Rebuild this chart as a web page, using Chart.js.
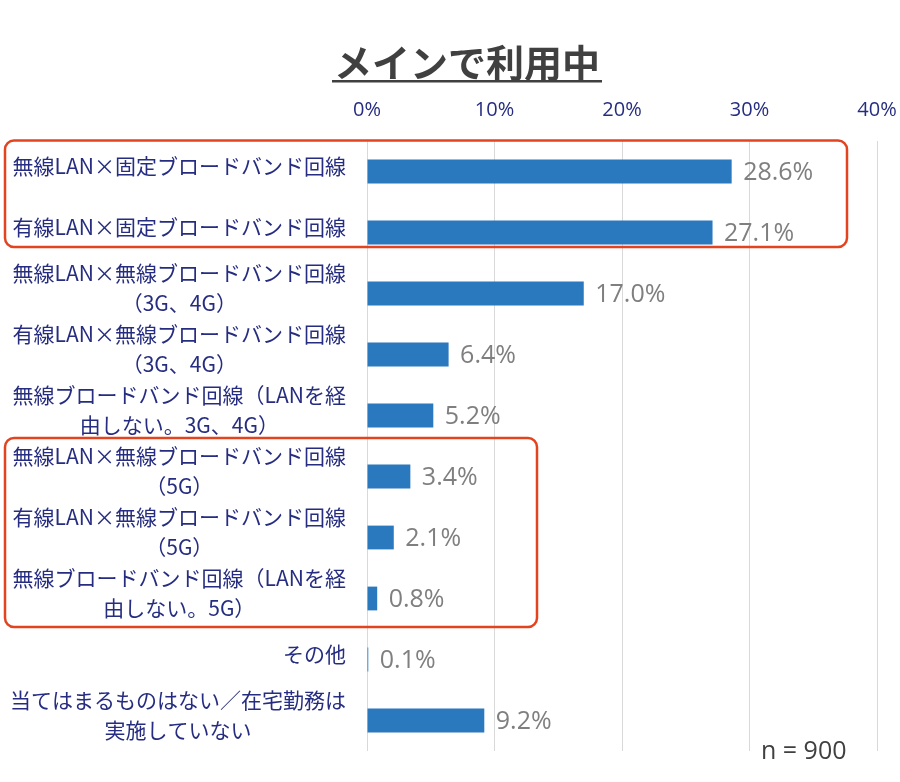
<!DOCTYPE html>
<html>
<head>
<meta charset="utf-8">
<script src="https://cdn.jsdelivr.net/npm/chart.js@4"></script>
<style>html,body{margin:0;padding:0;background:#fff;}canvas{display:block;}</style>
</head>
<body>
<canvas id="c" width="900" height="782"></canvas>
<script>
// ---- data ----
const titleText = 'メインで利用中';
const categories = [
  ['無線LAN×固定ブロードバンド回線'],
  ['有線LAN×固定ブロードバンド回線'],
  ['無線LAN×無線ブロードバンド回線', '（3G、4G）'],
  ['有線LAN×無線ブロードバンド回線', '（3G、4G）'],
  ['無線ブロードバンド回線（LANを経', '由しない。3G、4G）'],
  ['無線LAN×無線ブロードバンド回線', '（5G）'],
  ['有線LAN×無線ブロードバンド回線', '（5G）'],
  ['無線ブロードバンド回線（LANを経', '由しない。5G）'],
  ['その他'],
  ['当てはまるものはない／在宅勤務は', '実施していない']
];
const values = [28.6, 27.1, 17.0, 6.4, 5.2, 3.4, 2.1, 0.8, 0.1, 9.2];
const xTickLabels = ['0%', '10%', '20%', '30%', '40%'];
const noteText = 'n = 900';
const highlightGroups = [[0, 1], [5, 7]];

// ---- styles ----
const NAVY = '#262d80';
const CJK = "'Noto Sans CJK JP', 'Noto Sans', sans-serif";
const LATIN = "'Open Sans', 'Noto Sans', sans-serif";

const categoryLabelPlugin = {
  id: 'categoryLabels',
  afterDraw(chart) {
    const ctx = chart.ctx;
    const y = chart.scales.y;
    const blockRight = chart.chartArea.left - 21;
    const lh = 30;
    ctx.save();
    ctx.font = '21px ' + CJK;
    ctx.fillStyle = NAVY;
    ctx.textAlign = 'center';
    ctx.textBaseline = 'middle';
    categories.forEach((lines, i) => {
      const cy = y.getPixelForTick(i) - 5;
      const w = Math.max(...lines.map(l => ctx.measureText(l).width));
      const cx = blockRight - w / 2;
      const y0 = cy - (lines.length - 1) * lh / 2;
      lines.forEach((l, k) => ctx.fillText(l, cx, y0 + k * lh));
    });
    ctx.restore();
  }
};

const valueLabelPlugin = {
  id: 'valueLabels',
  afterDatasetsDraw(chart) {
    const ctx = chart.ctx;
    const meta = chart.getDatasetMeta(0);
    ctx.save();
    ctx.font = '25px ' + LATIN;
    ctx.fillStyle = '#7f7f7f';
    ctx.textAlign = 'left';
    ctx.textBaseline = 'middle';
    meta.data.forEach((bar, i) => {
      ctx.fillText(values[i].toFixed(1) + '%', bar.x + 11.5, bar.y + 1.5);
    });
    ctx.restore();
  }
};

const decorPlugin = {
  id: 'decor',
  afterDraw(chart) {
    const ctx = chart.ctx;
    const y = chart.scales.y;
    // title underline
    const tb = chart.titleBlock;
    ctx.save();
    ctx.font = 'bold 38px ' + CJK;
    const tw = ctx.measureText(titleText).width;
    const tcx = (tb.left + tb.right) / 2;
    const tcy = tb.top + 40 + 38 * 1.2 / 2;
    ctx.strokeStyle = '#404040';
    ctx.lineWidth = 2.5;
    ctx.beginPath();
    ctx.moveTo(tcx - tw / 2 - 2, tcy + 18.5);
    ctx.lineTo(tcx + tw / 2 + 2, tcy + 18.5);
    ctx.stroke();

    // highlight boxes
    ctx.strokeStyle = '#e3441f';
    ctx.lineWidth = 2.5;
    const boxes = [
      {g: highlightGroups[0], left: 5, right: 847, top: -31, bottom: 14.5},
      {g: highlightGroups[1], left: 5, right: 537, top: -38.5, bottom: 28.5}
    ];
    boxes.forEach(b => {
      const t = y.getPixelForTick(b.g[0]) + b.top;
      const bt = y.getPixelForTick(b.g[1]) + b.bottom;
      ctx.beginPath();
      ctx.roundRect(b.left, t, b.right - b.left, bt - t, 9);
      ctx.stroke();
    });

    // sample size note
    ctx.font = '25px ' + LATIN;
    ctx.fillStyle = '#404040';
    ctx.textAlign = 'left';
    ctx.textBaseline = 'middle';
    ctx.fillText(noteText, 761, chart.chartArea.bottom + 1);
    ctx.restore();
  }
};

new Chart(document.getElementById('c'), {
  type: 'bar',
  data: {
    labels: categories,
    datasets: [{
      data: values,
      backgroundColor: '#2a78be',
      borderWidth: 0,
      barPercentage: 0.39,
      categoryPercentage: 1.0
    }]
  },
  options: {
    indexAxis: 'y',
    responsive: false,
    animation: false,
    devicePixelRatio: 1,
    layout: { padding: { left: 57, right: 23, top: 0, bottom: 31 } },
    plugins: {
      legend: { display: false },
      tooltip: { enabled: false },
      title: {
        display: true,
        text: titleText,
        color: '#404040',
        font: { family: CJK, size: 38, weight: 'bold' },
        padding: { top: 40, bottom: 0 }
      }
    },
    scales: {
      x: {
        position: 'top',
        min: 0,
        max: 40,
        ticks: {
          stepSize: 10,
          padding: 19,
          color: NAVY,
          font: { family: LATIN, size: 20 },
          callback: (v, i) => xTickLabels[i]
        },
        grid: { color: '#d9d9d9', lineWidth: 1, drawTicks: false },
        border: { display: false },
        afterFit(s) { s.height = 55.4; s.paddingLeft = 0; s.paddingRight = 0; }
      },
      y: {
        ticks: { display: false },
        grid: { display: false },
        border: { display: false },
        afterFit(s) { s.width = 310; }
      }
    }
  },
  plugins: [categoryLabelPlugin, valueLabelPlugin, decorPlugin]
});
</script>
</body>
</html>
